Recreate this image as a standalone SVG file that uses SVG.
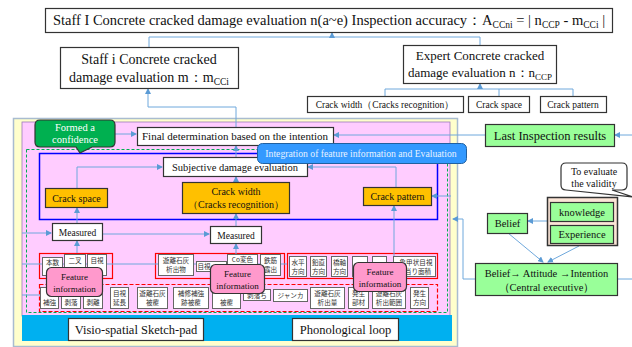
<svg xmlns="http://www.w3.org/2000/svg" width="632" height="347" viewBox="0 0 632 347" font-family="'Liberation Serif','Times New Roman',serif">
<defs>
<marker id="ah" markerWidth="6" markerHeight="6" refX="5" refY="3" orient="auto" markerUnits="userSpaceOnUse">
<path d="M0,0 L6,3 L0,6 Z" fill="#5b9bd5"/>
</marker>
<style>
text{font-family:"Liberation Serif","Times New Roman",serif;fill:#111;}
.bx{fill:#fff;stroke:#333;stroke-width:1.2;}
.gb{fill:#99ff99;stroke:#333;stroke-width:1.2;}
.ob{fill:#ffc000;stroke:#333;stroke-width:1.2;}
.cj{fill:#fff;stroke:#666;stroke-width:1;}
.cjt{font-family:"Noto Sans CJK JP","Noto Sans",sans-serif;font-size:6.6px;fill:#333;text-anchor:middle;}
.fi{fill:#ff99cc;stroke:#333;stroke-width:1.2;}
.c{fill:none;stroke:#6fa8dc;stroke-width:1;}
.ca{fill:none;stroke:#6fa8dc;stroke-width:1;marker-end:url(#ah);}
.m{text-anchor:middle;}
</style>
</defs>
<rect width="632" height="347" fill="#fff"/>

<g id="frames">
<rect x="13.5" y="118.5" width="444" height="228" fill="#ffffcc" stroke="#a9bcd0" stroke-width="1.5"/>
<rect x="22" y="122" width="428" height="194" fill="#ffccff" stroke="#9a7ab8" stroke-width="0.8"/>
<rect x="22" y="315" width="430" height="26" fill="#00b0f0"/>
<rect x="26.5" y="149.5" width="421" height="163" fill="none" stroke="#00b050" stroke-width="1" stroke-dasharray="3,2"/>
<rect x="39.5" y="153.5" width="398" height="66" fill="none" stroke="#0000ff" stroke-width="1.5"/>
<rect x="39.5" y="253.5" width="73" height="25" fill="none" stroke="#ff0000" stroke-width="1.2"/>
<rect x="155.5" y="253.5" width="129" height="25" fill="none" stroke="#ff0000" stroke-width="1.2"/>
<rect x="287.5" y="253.5" width="150" height="25" fill="none" stroke="#ff0000" stroke-width="1.2"/>
<rect x="39.5" y="284.5" width="398" height="27" fill="none" stroke="#ff0000" stroke-width="1.2" stroke-dasharray="4,2"/>
</g>

<g id="connectors">
<path class="c" d="M149,47 V37 H480 V45"/>
<path class="ca" d="M332,37 V33"/>
<path class="c" d="M385,96 V89 H573 V96"/>
<path class="c" d="M499,96 V89"/>
<path class="ca" d="M480,89 V84"/>
<path class="ca" d="M236,127 V107 H148 V89"/>
<path class="ca" d="M115,134 H136"/>
<path class="ca" d="M485,135 H334"/>
<path class="ca" d="M632,135 H615"/>
<path class="ca" d="M236,157 V146"/>
<path class="ca" d="M77,188 V167 H162"/>
<path class="ca" d="M396,187 V167 H308"/>
<path class="ca" d="M236,182 V177"/>
<path class="ca" d="M77,223 V208"/>
<path class="ca" d="M236,226 V214"/>
<path class="ca" d="M22,233 H51"/>
<path class="ca" d="M102,234 H209"/>
<path class="ca" d="M77,253 V241"/>
<path class="ca" d="M236,254 V244"/>
<path class="ca" d="M394,256 V206"/>
<path class="ca" d="M451,196 H432"/>
<path class="ca" d="M475,279 H463 V219 H453"/>
<path class="c" d="M617,279 H632"/>
<path class="ca" d="M547,221 H528"/>
<path class="ca" d="M508,233 L543,262"/>
<path class="ca" d="M579,246 L548,262"/>
<path class="c" d="M22,264 H287"/>
<path class="c" d="M22,295 H40"/>
</g>

<g id="top-accuracy">
<rect class="bx" x="45.5" y="8.5" width="567" height="24"/>
<text class="m" x="329" y="25" font-size="14.5">Staff I Concrete cracked damage evaluation n(a~e)  Inspection accuracy：A<tspan font-size="9.5" dy="3">CCni</tspan><tspan dy="-3"> = | n</tspan><tspan font-size="9.5" dy="3">CCP</tspan><tspan dy="-3"> - m</tspan><tspan font-size="9.5" dy="3">CCi</tspan><tspan dy="-3"> |</tspan></text>
</g>

<g id="staff-i">
<rect class="bx" x="60.5" y="47.5" width="178" height="41"/>
<text class="m" x="149" y="64" font-size="14">Staff i Concrete cracked</text>
<text class="m" x="149" y="82" font-size="14">damage evaluation m：m<tspan font-size="9.5" dy="3">CCi</tspan></text>
</g>

<g id="expert">
<rect class="bx" x="403.5" y="45.5" width="153" height="38"/>
<text class="m" x="480" y="60" font-size="13">Expert Concrete cracked</text>
<text class="m" x="480" y="77" font-size="13">damage evaluation n：n<tspan font-size="9" dy="3">CCP</tspan></text>
</g>

<g id="crack-width-top">
<rect class="bx" x="307.5" y="96.5" width="156" height="16"/>
<text class="m" x="385" y="108" font-size="9.5">Crack width（Cracks recognition）</text>
</g>
<g id="crack-space-top">
<rect class="bx" x="468.5" y="96.5" width="61" height="16"/>
<text class="m" x="499" y="108" font-size="9.5">Crack space</text>
</g>
<g id="crack-pattern-top">
<rect class="bx" x="540.5" y="96.5" width="66" height="16"/>
<text class="m" x="573" y="108" font-size="9.5">Crack pattern</text>
</g>

<g id="formed-confidence">
<path d="M40,120 H110 Q115,120 115,125 V142 Q115,147 110,147 H92 L80,153 L76,147 H40 Q35,147 35,142 V125 Q35,120 40,120 Z" fill="#00b050" stroke="#333" stroke-width="1.2"/>
<text class="m" x="75" y="131" font-size="10.5" style="fill:#fff">Formed a</text>
<text class="m" x="75" y="143" font-size="10.5" style="fill:#fff">confidence</text>
</g>

<g id="final-determination">
<rect class="bx" x="137.5" y="127.5" width="196" height="18"/>
<text class="m" x="235" y="140" font-size="11">Final determination based on the intention</text>
</g>

<g id="last-inspection">
<rect class="gb" x="485.5" y="124.5" width="129" height="22"/>
<text class="m" x="550" y="140" font-size="12.5">Last  Inspection results</text>
</g>

<g id="subjective">
<rect class="bx" x="163.5" y="157.5" width="144" height="19"/>
<text class="m" x="235" y="170.5" font-size="10.5">Subjective damage evaluation</text>
</g>

<g id="integration">
<rect x="257.5" y="143.5" width="209" height="20" rx="5" fill="#3399ff" stroke="#2060a0" stroke-width="1"/>
<text class="m" x="361" y="157" font-size="9.7" style="fill:#e8f2ff">Integration of feature information and Evaluation</text>
</g>

<g id="crack-space">
<rect class="ob" x="45.5" y="188.5" width="62" height="19"/>
<text class="m" x="76.5" y="201.5" font-size="10">Crack space</text>
</g>
<g id="crack-width">
<rect class="ob" x="182.5" y="182.5" width="107" height="31"/>
<text class="m" x="236" y="195" font-size="10">Crack width</text>
<text class="m" x="236" y="208" font-size="10">（Cracks recognition）</text>
</g>
<g id="crack-pattern">
<rect class="ob" x="363.5" y="187.5" width="68" height="18"/>
<text class="m" x="397.5" y="200" font-size="10">Crack pattern</text>
</g>

<g id="measured-1">
<rect class="bx" x="52.5" y="223.5" width="50" height="17"/>
<text class="m" x="77.5" y="235.5" font-size="9.5">Measured</text>
</g>
<g id="measured-2">
<rect class="bx" x="210.5" y="226.5" width="51" height="17"/>
<text class="m" x="236" y="238.5" font-size="9.5">Measured</text>
</g>

<g id="row1-a">
<rect class="cj" x="42.5" y="257.5" width="20" height="18"/><text class="cjt" x="52.5" y="265">本数</text>
<rect class="cj" x="64.5" y="254.5" width="21" height="21"/><text class="cjt" x="75" y="263">二叉</text>
<rect class="cj" x="87.5" y="254.5" width="19" height="21"/><text class="cjt" x="97" y="263">目視</text>
</g>
<g id="row1-b">
<rect class="cj" x="158.5" y="254.5" width="35" height="21"/><text class="cjt" x="176" y="263">遊離石灰</text><text class="cjt" x="176" y="272">析出物</text>
<rect class="cj" x="196.5" y="261.5" width="30" height="10"/><text class="cjt" x="204" y="269">目視</text>
<rect class="cj" x="227.5" y="254.5" width="30" height="21"/><text class="cjt" x="242.5" y="262">Co変色</text>
<rect class="cj" x="260.5" y="254.5" width="20" height="21"/><text class="cjt" x="270.5" y="263">鉄筋</text><text class="cjt" x="270.5" y="272">露出</text>
</g>
<g id="row1-c">
<rect class="cj" x="289.5" y="256.5" width="17" height="20"/><text class="cjt" x="298" y="265">水平</text><text class="cjt" x="298" y="274">方向</text>
<rect class="cj" x="310.5" y="256.5" width="16" height="20"/><text class="cjt" x="318.5" y="265">鉛直</text><text class="cjt" x="318.5" y="274">方向</text>
<rect class="cj" x="331.5" y="256.5" width="16" height="20"/><text class="cjt" x="339.5" y="265">橋軸</text><text class="cjt" x="339.5" y="274">方向</text>
<rect class="cj" x="352.5" y="256.5" width="15" height="20"/>
<rect class="cj" x="372.5" y="256.5" width="14" height="20"/>
<rect class="cj" x="393.5" y="256.5" width="42" height="20"/><text class="cjt" x="416" y="265">亀甲状目視</text><text class="cjt" x="418" y="274">当り面積</text>
</g>
<g id="row2">
<rect class="cj" x="40.5" y="287.5" width="18" height="21"/><text class="cjt" x="49.5" y="305">補強</text>
<rect class="cj" x="61.5" y="287.5" width="19" height="21"/><text class="cjt" x="71" y="305">剥落</text>
<rect class="cj" x="83.5" y="287.5" width="19" height="21"/><text class="cjt" x="93" y="305">剥離</text>
<rect class="cj" x="110.5" y="287.5" width="18" height="21"/><text class="cjt" x="119.5" y="296">目視</text><text class="cjt" x="119.5" y="305">延長</text>
<rect class="cj" x="137.5" y="287.5" width="30" height="21"/><text class="cjt" x="152.5" y="296">遊離石灰</text><text class="cjt" x="152.5" y="305">被覆</text>
<rect class="cj" x="173.5" y="287.5" width="35" height="21"/><text class="cjt" x="191" y="296">補修補強</text><text class="cjt" x="191" y="305">跡被覆</text>
<rect class="cj" x="212.5" y="287.5" width="28" height="21"/><text class="cjt" x="226.5" y="305">被覆</text>
<rect class="cj" x="243.5" y="289.5" width="27" height="11"/><text class="cjt" x="257" y="297.5">剥落ち</text>
<rect class="cj" x="273.5" y="289.5" width="34" height="12"/><text class="cjt" x="290.5" y="298">ジャンカ</text>
<rect class="cj" x="310.5" y="287.5" width="34" height="21"/><text class="cjt" x="327.5" y="296">遊離石灰</text><text class="cjt" x="327.5" y="305">析出量</text>
<rect class="cj" x="348.5" y="287.5" width="20" height="21"/><text class="cjt" x="358.5" y="296">発生</text><text class="cjt" x="358.5" y="305">部材</text>
<rect class="cj" x="372.5" y="287.5" width="33" height="21"/><text class="cjt" x="389" y="296">遊離石灰</text><text class="cjt" x="389" y="305">析出範囲</text>
<rect class="cj" x="410.5" y="287.5" width="18" height="21"/><text class="cjt" x="419.5" y="296">発生</text><text class="cjt" x="419.5" y="305">方向</text>
</g>

<g id="feature-1">
<rect class="fi" x="46.5" y="267.5" width="56" height="29" rx="5"/>
<text class="m" x="74.5" y="279.5" font-size="9">Feature</text>
<text class="m" x="74.5" y="291.5" font-size="9">information</text>
</g>
<g id="feature-2">
<rect class="fi" x="210.5" y="264.5" width="54" height="29" rx="5"/>
<text class="m" x="237.5" y="276.5" font-size="9">Feature</text>
<text class="m" x="237.5" y="288.5" font-size="9">information</text>
</g>
<g id="feature-3">
<rect class="fi" x="353.5" y="262.5" width="53" height="29" rx="5"/>
<text class="m" x="380" y="274.5" font-size="9">Feature</text>
<text class="m" x="380" y="286.5" font-size="9">information</text>
</g>

<g id="visio-spatial">
<rect class="bx" x="68.5" y="318.5" width="135" height="22"/>
<text class="m" x="136" y="334" font-size="12.5">Visio-spatial Sketch-pad</text>
</g>
<g id="phonological">
<rect class="bx" x="292.5" y="318.5" width="106" height="22"/>
<text class="m" x="345.5" y="334" font-size="12.5">Phonological loop</text>
</g>

<g id="to-evaluate">
<path d="M566,163 H622 Q627,163 627,168 V185 Q627,190 622,190 H612 L633,197 L566,190 Q561,190 561,185 V168 Q561,163 566,163 Z" fill="#fff" stroke="#333" stroke-width="1.2"/>
<text class="m" x="594" y="175" font-size="10">To evaluate</text>
<text class="m" x="594" y="187" font-size="10">the validity</text>
</g>

<g id="knowledge-experience">
<rect x="547.5" y="197.5" width="70" height="48" fill="#fbe5d6" stroke="#333" stroke-width="1.5"/>
<rect class="gb" x="550.5" y="202.5" width="63" height="19"/>
<text class="m" x="582" y="215.5" font-size="10.5">knowledge</text>
<rect class="gb" x="550.5" y="225.5" width="63" height="18"/>
<text class="m" x="582" y="238" font-size="10.5">Experience</text>
</g>

<g id="belief">
<rect class="gb" x="487.5" y="213.5" width="40" height="20"/>
<text class="m" x="507.5" y="227" font-size="10.5">Belief</text>
</g>

<g id="central-executive">
<rect class="gb" x="475.5" y="263.5" width="142" height="32"/>
<text class="m" x="546.5" y="277" font-size="10.5">Belief→ Attitude →Intention</text>
<text class="m" x="546.5" y="291" font-size="10.5">（Central executive）</text>
</g>
</svg>
